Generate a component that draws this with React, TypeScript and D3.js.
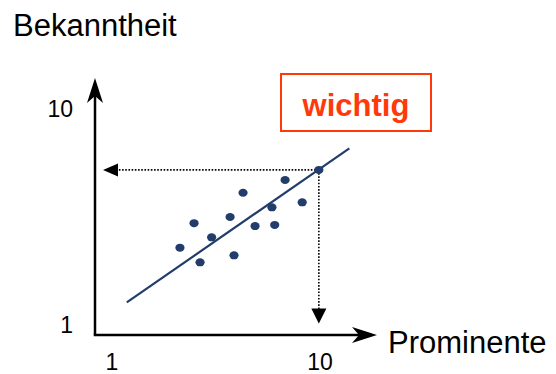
import React from "react";
import * as d3 from "d3";

const W = 556;
const H = 374;

// Data (conceptual scale 1..10)
const pointX = [3.94, 4.55, 4.81, 5.31, 6.11, 6.28, 6.67, 7.19, 7.92, 8.04, 8.49, 9.23, 9.95];
const pointY = [4.18, 5.2, 3.57, 4.61, 5.46, 3.86, 6.47, 5.08, 5.86, 5.13, 7.0, 6.07, 7.42];
const trendX = [1.64, 11.27];
const trendY = [1.9, 8.32];
const xTicks = [1, 10];
const yTicks = [1, 10];
const highlightIndex = 12;
const xLabel = "Prominente";
const yLabel = "Bekanntheit";
const boxLabel = "wichtig";

const FONT = "'Liberation Sans', Arial, Helvetica, sans-serif";
const NAVY = "#223d6b";
const RED = "#ff3a0a";

export default function App() {
  const x = d3.scaleLinear().domain([1, 10]).range([112, 320]);
  const y = d3.scaleLinear().domain([1, 10]).range([324, 108]);

  const axisX = 95; // pixel position of y axis
  const axisY = 335; // pixel position of x axis
  const yTop = 78;
  const xRight = 377;

  const line = d3
    .line<number>()
    .x((_, i) => x(trendX[i]))
    .y((_, i) => y(trendY[i]));

  const hx = x(pointX[highlightIndex]);
  const hy = y(pointY[highlightIndex]);

  // concave arrowhead for axes
  const upArrow = `M${axisX},${yTop} L${axisX + 8},${yTop + 25} L${axisX},${yTop + 18} L${axisX - 8},${yTop + 25} Z`;
  const rightArrow = `M${xRight},${axisY} L${xRight - 25},${axisY - 8} L${xRight - 18},${axisY} L${xRight - 25},${axisY + 8} Z`;

  const leftTip = axisX + 8;
  const leftArrow = `M${leftTip},${hy} L${leftTip + 15},${hy - 6.5} L${leftTip + 15},${hy + 6.5} Z`;
  const downTip = 323.5;
  const downArrow = `M${hx},${downTip} L${hx - 7.5},${downTip - 15} L${hx + 7.5},${downTip - 15} Z`;

  return (
    <svg width={W} height={H} style={{ position: "absolute", left: 0, top: 0, background: "#fff" }}>
      {/* axes */}
      <line x1={axisX} y1={axisY} x2={axisX} y2={yTop + 10} stroke="#000" strokeWidth={2.5} />
      <line x1={axisX - 1.25} y1={axisY} x2={xRight - 10} y2={axisY} stroke="#000" strokeWidth={2.5} />
      <path d={upArrow} fill="#000" />
      <path d={rightArrow} fill="#000" />

      {/* dotted guide lines */}
      <line x1={hx} y1={hy} x2={leftTip + 14} y2={hy} stroke="#000" strokeWidth={1.6} strokeDasharray="1.6 1.6" />
      <line x1={hx} y1={hy} x2={hx} y2={downTip - 14} stroke="#000" strokeWidth={1.6} strokeDasharray="1.6 1.6" />
      <path d={leftArrow} fill="#000" />
      <path d={downArrow} fill="#000" />

      {/* trend line */}
      <path d={line(trendX) ?? ""} fill="none" stroke={NAVY} strokeWidth={2.2} />

      {/* points */}
      {pointX.map((px, i) => (
        <ellipse key={i} cx={x(px)} cy={y(pointY[i])} rx={4.6} ry={4} fill={NAVY} />
      ))}

      {/* tick labels */}
      {xTicks.map((t) => (
        <text key={"x" + t} x={x(t)} y={370} textAnchor="middle" fontFamily={FONT} fontSize={23} fill="#000">
          {t}
        </text>
      ))}
      {yTicks.map((t) => (
        <text key={"y" + t} x={73} y={y(t) + 8.5} textAnchor="end" fontFamily={FONT} fontSize={23} fill="#000">
          {t}
        </text>
      ))}

      {/* axis titles */}
      <text x={13} y={36} fontFamily={FONT} fontSize={31} fill="#000">
        {yLabel}
      </text>
      <text x={388} y={353} fontFamily={FONT} fontSize={31} fill="#000">
        {xLabel}
      </text>

      {/* wichtig box */}
      <rect x={281} y={74} width={150} height={57} fill="#fff" stroke={RED} strokeWidth={2} />
      <text x={356} y={116} textAnchor="middle" fontFamily={FONT} fontSize={31} fontWeight="bold" fill={RED}>
        {boxLabel}
      </text>
    </svg>
  );
}
